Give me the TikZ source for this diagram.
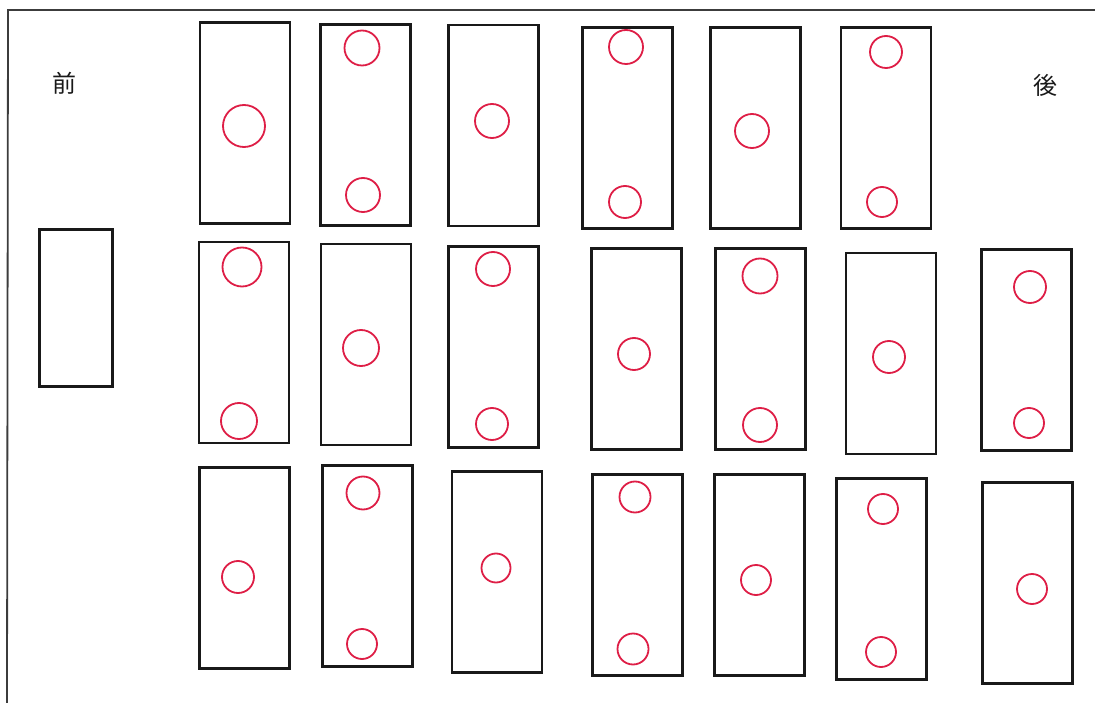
\documentclass[tikz,border=0pt]{standalone}
\usepackage{fontspec}
\newfontfamily\cjk{Noto Sans CJK JP}
\definecolor{penred}{RGB}{222,30,70}
\definecolor{ink}{RGB}{25,25,25}
\tikzset{
  box/.style={draw=ink, line width=2.3pt, rectangle, inner sep=0pt, outer sep=0pt,
              minimum width=90pt, minimum height=201pt},
  smallbox/.style={box, minimum width=73pt, minimum height=157pt},
  hole/.style={draw=penred, line width=1.8pt, circle, inner sep=0pt, outer sep=0pt},
  label/.style={font=\cjk\fontsize{24}{24}\selectfont, text=ink, inner sep=0pt},
  frame/.style={draw=ink!85, line width=1.8pt}
}
\begin{document}
\begin{tikzpicture}[x=1pt,y=-1pt]
\useasboundingbox (0,0) rectangle (1095,703);
% frame
\coordinate (fTR) at (1095,10);
\coordinate (fTL) at (8,10);
\coordinate (fBL) at (7,703);
\draw[frame] (fTR) -- (fTL) -- (fBL);
% labels
\node[label] (front) at (64,83) {前};
\node[label] (back) at (1045,85) {後};
% left box
\node[smallbox] (L) at (76,308) {};
% row 1
\node[box] (a1) at (245,123) {};
\node[box] (a2) at (365.5,125) {};
\node[box] (a3) at (493.5,125.5) {};
\node[box] (a4) at (627.5,128) {};
\node[box] (a5) at (755.5,128) {};
\node[box] (a6) at (886,128) {};
% row 2
\node[box] (b1) at (244,342.5) {};
\node[box] (b2) at (366,344.5) {};
\node[box] (b3) at (493.5,347) {};
\node[box] (b4) at (636.5,349) {};
\node[box] (b5) at (760.5,349) {};
\node[box] (b6) at (891,353.5) {};
\node[box] (b7) at (1026.5,350) {};
% row 3
\node[box] (c1) at (244.5,568) {};
\node[box] (c2) at (367.5,566) {};
\node[box] (c3) at (497,572) {};
\node[box] (c4) at (637.5,575) {};
\node[box] (c5) at (759.5,575) {};
\node[box] (c6) at (881.5,579) {};
\node[box] (c7) at (1027.5,583) {};
% holes row 1
\node[hole, minimum size=42pt] (a1m) at (244,126) {};
\node[hole, minimum size=35pt] (a2t) at (362,48) {};
\node[hole, minimum size=34pt] (a2b) at (363,195) {};
\node[hole, minimum size=34pt] (a3m) at (492,121) {};
\node[hole, minimum size=34pt] (a4t) at (626,47) {};
\node[hole, minimum size=32pt] (a4b) at (625,202) {};
\node[hole, minimum size=34pt] (a5m) at (752,131) {};
\node[hole, minimum size=32pt] (a6t) at (886,52) {};
\node[hole, minimum size=30pt] (a6b) at (882,202) {};
% holes row 2
\node[hole, minimum size=39pt] (b1t) at (242,267) {};
\node[hole, minimum size=36pt] (b1b) at (239,421) {};
\node[hole, minimum size=36pt] (b2m) at (361,348) {};
\node[hole, minimum size=34pt] (b3t) at (493,269) {};
\node[hole, minimum size=32pt] (b3b) at (492,424) {};
\node[hole, minimum size=32pt] (b4m) at (634,354) {};
\node[hole, minimum size=35pt] (b5t) at (760,276) {};
\node[hole, minimum size=34pt] (b5b) at (760,425) {};
\node[hole, minimum size=32pt] (b6m) at (889,357) {};
\node[hole, minimum size=32pt] (b7t) at (1030,287) {};
\node[hole, minimum size=30pt] (b7b) at (1029,423) {};
% holes row 3
\node[hole, minimum size=32pt] (c1m) at (238,577) {};
\node[hole, minimum size=33pt] (c2t) at (363,493) {};
\node[hole, minimum size=30pt] (c2b) at (362,644) {};
\node[hole, minimum size=29pt] (c3m) at (496,568) {};
\node[hole, minimum size=31pt] (c4t) at (635,497) {};
\node[hole, minimum size=31pt] (c4b) at (633,649) {};
\node[hole, minimum size=30pt] (c5m) at (756,580) {};
\node[hole, minimum size=30pt] (c6t) at (883,509) {};
\node[hole, minimum size=30pt] (c6b) at (881,652) {};
\node[hole, minimum size=30pt] (c7m) at (1032,589) {};
\end{tikzpicture}
\end{document}
